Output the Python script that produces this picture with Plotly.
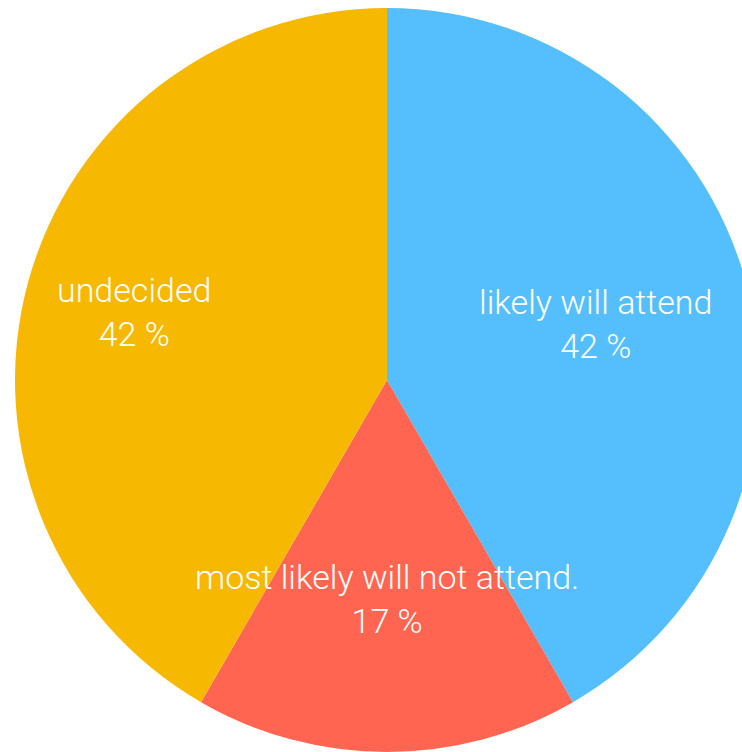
import math
import plotly.graph_objects as go

labels = ["likely will attend", "most likely will not attend.", "undecided"]
values = [5, 2, 5]
colors = ["#55BFFD", "#FF6550", "#F6B800"]
label_radius = [0.58, 0.59, 0.705]

total = sum(values)
fig = go.Figure(go.Pie(
    labels=labels, values=values, sort=False, direction="clockwise", rotation=0,
    marker=dict(colors=colors, line=dict(width=0)),
    textinfo="none", hoverinfo="label+percent", showlegend=False,
    domain=dict(x=[0, 1], y=[0, 1]),
))

cum = 0
for lab, v, f in zip(labels, values, label_radius):
    mid = (cum + v / 2) / total * 2 * math.pi
    cum += v
    pct = round(v / total * 100)
    fig.add_annotation(
        x=0.5 + 0.5 * f * math.sin(mid), y=0.5 + 0.5 * f * math.cos(mid),
        xref="paper", yref="paper", showarrow=False,
        xanchor="center", yanchor="middle",
        text=f"{lab}<br>{pct} %", align="center",
        font=dict(family="Roboto", size=34, color="white", weight=300),
    )

fig.update_layout(
    width=760, height=752, margin=dict(l=15, r=1, t=8, b=0),
    paper_bgcolor="white", plot_bgcolor="white",
)
fig.write_html("out.html", config={"displayModeBar": False},
               post_script="document.body.style.overflow='hidden';document.body.style.margin='0';")
